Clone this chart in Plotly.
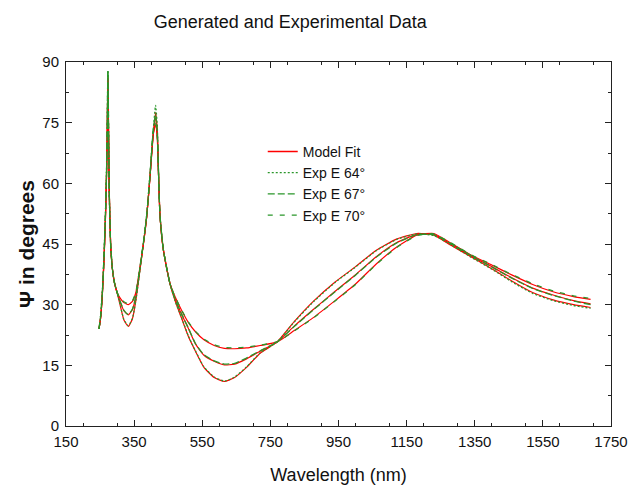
import plotly.graph_objects as go

wavelength = [247, 252, 257, 262, 266, 269, 271, 273, 275, 277,
              281, 286, 292, 300, 310, 320, 333, 345, 355, 367,
              378, 387, 397, 406, 413, 418, 421, 426, 436, 455,
              470, 490, 510, 530, 555, 585, 615, 645, 680, 720,
              770, 820, 876, 940, 1000, 1060, 1120, 1180, 1230, 1280,
              1340, 1400, 1460, 1520, 1580, 1640, 1690]

fit_64 = [24, 27, 33, 42, 52, 62, 72, 86, 72, 58,
          45, 39, 35.5, 33, 29.5, 26.2, 24.6, 26.5, 31, 38.5,
          45.5, 51.8, 62, 72, 77.5, 73, 64, 52, 43.5, 35.3,
          31, 26.5, 22, 18.5, 14.5, 12, 11, 12, 14.5, 18,
          20.8, 25.8, 30.8, 35.6, 39.4, 43.4, 46.2, 47.6, 47.2, 44.7,
          41.8, 38.9, 35.8, 33.0, 31.2, 30.0, 29.3]
fit_67 = [24, 27, 33, 42, 52, 62, 72, 86, 72, 58,
          45, 39, 35.5, 33, 30.5, 28.5, 27.5, 28.8, 32, 38.8,
          45.5, 51.8, 62, 72, 76, 72, 64, 52, 43.5, 35.3,
          31.5, 27.5, 24, 20.3, 17.5, 16.0, 15.1, 15.3, 16.6, 18.5,
          20.8, 24.7, 28.8, 33.3, 37.4, 41.8, 45.3, 47.4, 47.4, 45.0,
          42.0, 39.4, 36.6, 34.1, 32.4, 31.0, 30.2]
fit_70 = [24, 27, 33, 42, 52, 62, 72, 86, 72, 58,
          45, 39, 35.5, 33, 31.5, 30.5, 30.0, 30.8, 33, 39.2,
          45.5, 51.8, 62, 72, 74.5, 71, 64, 52, 43.5, 35.3,
          32, 28.5, 25.5, 23.3, 21.3, 19.9, 19.2, 19.1, 19.3, 19.9,
          20.8, 23.6, 26.8, 31.0, 35.1, 40.0, 44.2, 47.2, 47.6, 45.2,
          42.2, 39.8, 37.3, 35.0, 33.2, 32.0, 31.3]

exp_64 = [24, 27.5, 33.5, 43, 53, 63, 74, 88, 73, 58,
          45, 39, 35.5, 33, 29.6, 26.3, 24.8, 26.6, 31, 38.6,
          45.8, 52.2, 62.5, 73, 79.3, 74, 64.5, 52, 43.5, 35.3,
          31, 26.6, 22.1, 18.6, 14.6, 12.1, 11.1, 12.1, 14.6, 18.1,
          20.8, 25.7, 30.7, 35.5, 39.3, 43.3, 46.1, 47.5, 47.1, 44.8,
          41.7, 38.8, 35.6, 32.8, 31.0, 29.8, 29.1]
exp_67 = [24, 27.5, 33.5, 43, 53, 63, 74, 88, 73, 58,
          45, 39, 35.5, 33, 30.6, 28.6, 27.6, 28.9, 32, 38.9,
          45.8, 52.2, 62.5, 73, 77, 73, 64.5, 52, 43.5, 35.3,
          31.5, 27.6, 24.1, 20.4, 17.6, 16.1, 15.3, 15.5, 16.8, 18.6,
          20.8, 24.6, 28.7, 33.2, 37.3, 41.7, 45.2, 47.3, 47.3, 45.1,
          42.1, 39.3, 36.5, 34.0, 32.3, 30.9, 30.0]
exp_70 = [24, 27.5, 33.5, 43, 53, 63, 74, 88, 73, 58,
          45, 39, 35.5, 33, 31.6, 30.7, 30.2, 31.0, 33.1, 39.3,
          45.8, 52.2, 62.5, 73, 75, 71.5, 64.5, 52, 43.5, 35.3,
          32, 28.6, 25.6, 23.4, 21.5, 20.1, 19.4, 19.3, 19.5, 20.0,
          20.8, 23.5, 26.7, 30.9, 35.0, 39.9, 44.1, 47.1, 47.5, 45.3,
          42.3, 39.9, 37.4, 35.2, 33.4, 32.2, 31.5]

RED = "#ff0000"
GREEN = "#2a962a"
FONT = "Liberation Sans, Arial, sans-serif"

fig = go.Figure()
# legend entry for the model fits
fig.add_trace(go.Scatter(
    x=[None], y=[None], mode="lines", name="Model Fit", legendrank=1,
    line=dict(color=RED, width=1.5)))
for y in [fit_64, fit_67, fit_70]:
    fig.add_trace(go.Scatter(
        x=wavelength, y=y, mode="lines", name="Model Fit", showlegend=False,
        line=dict(color=RED, width=1.2, shape="spline", smoothing=0.5)))

exp_series = [("Exp E 64°", exp_64, "2px,2px", 2),
              ("Exp E 67°", exp_67, "7px,3px", 3),
              ("Exp E 70°", exp_70, "5px,7px", 4)]
for name, y, dash, rank in exp_series:
    fig.add_trace(go.Scatter(
        x=wavelength, y=y, mode="lines", name=name, legendrank=rank,
        line=dict(color=GREEN, width=1.3, dash=dash, shape="spline", smoothing=0.5)))

axis_common = dict(
    showgrid=False, zeroline=False, showline=True, linecolor="#222", linewidth=1,
    mirror="allticks", ticks="inside", ticklen=6, tickcolor="#222",
    tickfont=dict(family=FONT, size=15, color="#111"), automargin=False,
)

fig.update_xaxes(
    range=[150, 1750], tick0=150, dtick=200, ticklabelstandoff=2,
    minor=dict(ticks="inside", dtick=100, ticklen=3, tickcolor="#222"),
    title=dict(text="Wavelength (nm)", font=dict(family=FONT, size=18, color="#111"), standoff=19),
    **axis_common)
fig.update_yaxes(
    range=[0, 90], tick0=0, dtick=15, ticklabelstandoff=3,
    minor=dict(ticks="inside", dtick=7.5, ticklen=3, tickcolor="#222"),
    title=dict(text="<b>Ψ in degrees</b>", font=dict(family=FONT, size=21, color="#111"), standoff=1),
    **axis_common)

fig.update_layout(
    width=631, height=489,
    margin=dict(l=66, r=20, t=62, b=63, autoexpand=False),
    paper_bgcolor="white", plot_bgcolor="white",
    title=dict(text="Generated and Experimental Data", xref="container", x=0.46, xanchor="center",
               y=0.955, yanchor="middle",
               font=dict(family=FONT, size=18, color="#111")),
    legend=dict(x=0.361, y=0.797, xanchor="left", yanchor="top",
                bgcolor="rgba(0,0,0,0)", font=dict(family=FONT, size=14, color="#111"),
                itemwidth=30, tracegroupgap=0),
    showlegend=True,
)

fig.write_html("out.html", config={"displayModeBar": False},
               post_script="document.body.style.margin='0px';")
